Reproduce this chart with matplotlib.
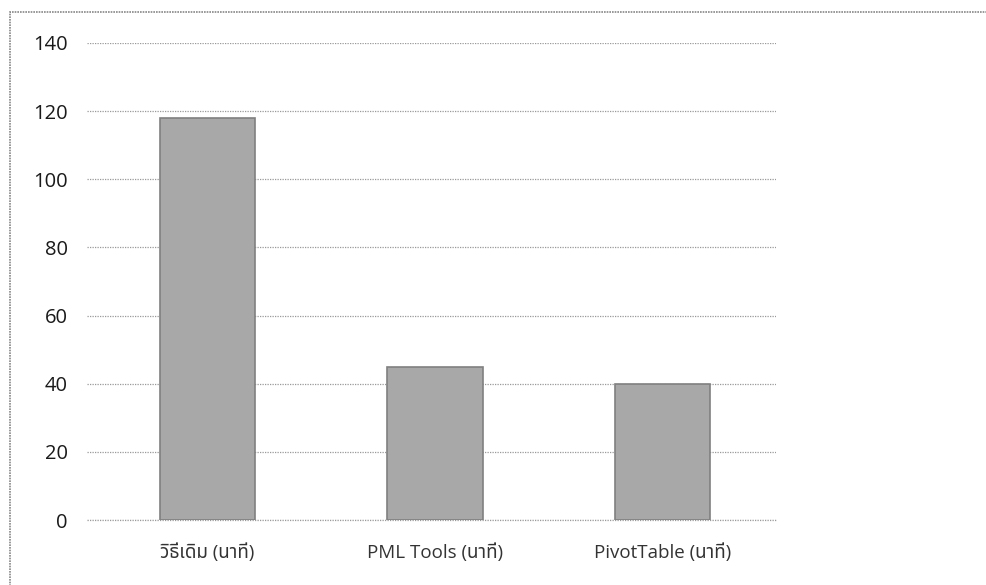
import matplotlib
matplotlib.use("Agg")
import matplotlib.pyplot as plt
from matplotlib.patches import Rectangle

categories = ["วิธีเดิม (นาที)", "PML Tools (นาที)", "PivotTable (นาที)"]
values = [118, 45, 40]
yticks = [0, 20, 40, 60, 80, 100, 120, 140]

plt.rcParams['font.family'] = ['Open Sans', 'Noto Sans Thai', 'DejaVu Sans']

fig = plt.figure(figsize=(9.87, 5.85), dpi=100)
ax = fig.add_axes([87/987, 1 - 520/585, (776-87)/987, (520-43)/585])

x = list(range(len(categories)))
ax.bar(x, values, width=0.42, color="#a8a8a8", edgecolor="#808080", linewidth=1.2, zorder=3)
ax.set_xlim(-0.53, 2.5)
ax.set_ylim(0, 140)
ax.set_yticks(yticks)
ax.set_yticklabels([str(v) for v in yticks], fontsize=14.5, color="#1a1a1a")
ax.set_xticks(x)
ax.set_xticklabels(categories, fontsize=13.5, color="#333333")
ax.tick_params(axis='y', length=0, pad=14)
ax.tick_params(axis='x', length=0, pad=17)
ax.grid(axis='y', color="#999999", linestyle=(0, (1, 1)), linewidth=0.9, zorder=0)
ax.axhline(0, color="#999999", linestyle=(0, (1, 1)), linewidth=0.9, zorder=1, clip_on=False)
for s in ax.spines.values():
    s.set_visible(False)

fig.patches.append(Rectangle((10/987, -0.05), 1.1, 1 - 12/585 + 0.05, transform=fig.transFigure,
                             fill=False, edgecolor="#888888", linewidth=1.2, linestyle=(0, (1, 0.6))))
fig.savefig("out.png", dpi=100)
